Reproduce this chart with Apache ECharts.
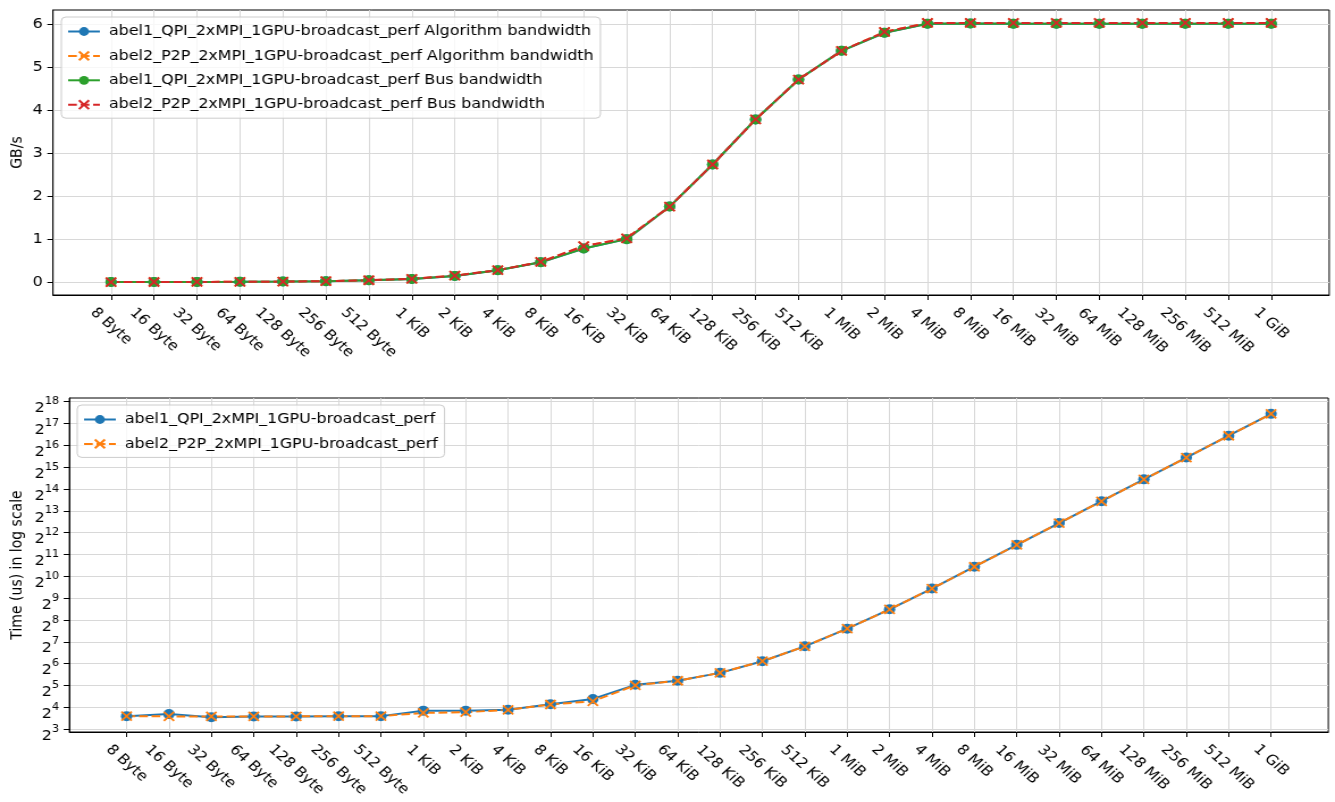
<!DOCTYPE html>
<html>
<head>
<meta charset="utf-8">
<title>NCCL broadcast_perf: abel1 QPI vs abel2 P2P</title>
<script src="https://cdn.jsdelivr.net/npm/echarts@6/dist/echarts.min.js"></script>
<style>
  html, body { margin: 0; padding: 0; background: #ffffff; overflow: hidden; }
  /* the figure is laid out on a 1176px-wide canvas and widened to fill the page */
  #chart { width: 1176px; height: 802px; transform: scaleX(1.1352); transform-origin: 0 0; }
</style>
</head>
<body>
<div id="chart"></div>
<script>
// Message sizes tested by broadcast_perf
const sizes = [
  '8 Byte', '16 Byte', '32 Byte', '64 Byte', '128 Byte', '256 Byte', '512 Byte',
  '1 KiB', '2 KiB', '4 KiB', '8 KiB', '16 KiB', '32 KiB', '64 KiB', '128 KiB', '256 KiB', '512 KiB',
  '1 MiB', '2 MiB', '4 MiB', '8 MiB', '16 MiB', '32 MiB', '64 MiB', '128 MiB', '256 MiB', '512 MiB',
  '1 GiB'
];

// Bandwidth in GB/s (broadcast: algorithm bandwidth equals bus bandwidth)
const qpiAlgBw = [0.0007, 0.0012, 0.0027, 0.0053, 0.0107, 0.021, 0.042, 0.071, 0.142, 0.277, 0.463, 0.78, 1.00,
  1.76, 2.74, 3.79, 4.72, 5.39, 5.81, 6.02, 6.03, 6.02, 6.02, 6.02, 6.02, 6.02, 6.02, 6.02];
const p2pAlgBw = [0.0007, 0.0013, 0.0027, 0.0053, 0.0107, 0.021, 0.042, 0.076, 0.150, 0.277, 0.468, 0.84, 1.02,
  1.76, 2.74, 3.79, 4.72, 5.39, 5.83, 6.04, 6.04, 6.04, 6.04, 6.04, 6.04, 6.04, 6.04, 6.04];
const qpiBusBw = [0.0007, 0.0012, 0.0027, 0.0053, 0.0107, 0.021, 0.042, 0.071, 0.142, 0.277, 0.463, 0.78, 1.00,
  1.76, 2.74, 3.79, 4.72, 5.39, 5.81, 6.02, 6.03, 6.02, 6.02, 6.02, 6.02, 6.02, 6.02, 6.02];
const p2pBusBw = [0.0007, 0.0013, 0.0027, 0.0053, 0.0107, 0.021, 0.042, 0.076, 0.150, 0.277, 0.468, 0.84, 1.02,
  1.76, 2.74, 3.79, 4.72, 5.39, 5.83, 6.04, 6.04, 6.04, 6.04, 6.04, 6.04, 6.04, 6.04, 6.04];

// Time per broadcast in microseconds
const qpiTime = [12.1, 12.9, 11.7, 12.0, 12.0, 12.1, 12.1, 14.4, 14.4, 14.8, 17.7, 20.9, 32.7,
  37.2, 47.8, 69.2, 111.0, 194.5, 359.8, 696.0, 1392, 2783, 5566, 11130, 22270, 44540, 89080, 178200];
const p2pTime = [12.1, 12.0, 12.0, 12.0, 12.0, 12.1, 12.1, 13.4, 13.7, 14.8, 17.5, 19.4, 32.2,
  37.2, 47.8, 69.2, 111.0, 194.5, 359.5, 694.5, 1389, 2778, 5556, 11110, 22230, 44460, 88920, 177800];

// Axis ticks
const bwTicks = [0, 1, 2, 3, 4, 5, 6];
const timeTickExponents = [3, 4, 5, 6, 7, 8, 9, 10, 11, 12, 13, 14, 15, 16, 17, 18];

const FONT = 'DejaVu Sans';
const TEXT = '#000000';
const GRID_LINE = '#d8d8d8';
const C_BLUE = '#1f77b4', C_ORANGE = '#ff7f0e', C_GREEN = '#2ca02c', C_RED = '#d62728';
const DASH = [7.7, 3.3];
const CROSS = 'path://M0,0L10,10M10,0L0,10';

const sizeIndex = sizes.map((_, i) => i);
const timeTicks = timeTickExponents.map(e => Math.pow(2, e));

// Rotated size labels are centred under their tick: shift each label by
// an amount that depends on its own rendered width.
const measureCtx = document.createElement('canvas').getContext('2d');
measureCtx.font = '14px "' + FONT + '"';
const LABEL_MARGIN = 8;
const sizeRich = {};
sizes.forEach((s, i) => {
  const w = measureCtx.measureText(s).width;
  const d = 9.7 + 0.354 * (w + 16.3) - LABEL_MARGIN;
  const p = Math.max(0, Math.round(1.414 * d));
  sizeRich['s' + i] = { fontFamily: FONT, fontSize: 14, color: TEXT, padding: [p, 0, 0, p] };
});

function sizeAxis(gridIndex) {
  return {
    type: 'value', gridIndex, min: -1.35, max: 28.35,
    axisLine: { show: true, onZero: false, lineStyle: { color: '#000', width: 1 } },
    axisTick: { show: true, length: 5, lineStyle: { color: '#000', width: 1 }, customValues: sizeIndex },
    axisLabel: {
      customValues: sizeIndex, rotate: -45, align: 'center', verticalAlign: 'middle',
      margin: LABEL_MARGIN, fontFamily: FONT, fontSize: 14, color: TEXT,
      showMinLabel: true, showMaxLabel: true,
      formatter: v => '{s' + Math.round(v) + '|' + sizes[Math.round(v)] + '}',
      rich: sizeRich
    },
    splitLine: { show: true, lineStyle: { color: GRID_LINE, width: 1 } }
  };
}

function pairs(values) {
  return values.map((v, i) => [i, v]);
}

function series(name, xAxisIndex, yAxisIndex, values, color, marker) {
  const isCross = marker === 'x';
  return {
    name, type: 'line', xAxisIndex, yAxisIndex,
    data: pairs(values),
    symbol: isCross ? CROSS : 'circle',
    symbolSize: isCross ? 9 : 10,
    showAllSymbol: true,
    lineStyle: { color, width: 2, type: isCross ? DASH : 'solid' },
    itemStyle: isCross ? { color, borderColor: color, borderWidth: 1.8 } : { color, borderWidth: 0 },
    emphasis: { disabled: true },
    silent: true,
    animation: false
  };
}

function legend(left, top, names) {
  return {
    left, top, orient: 'vertical', data: names,
    itemWidth: 28, itemHeight: 11, itemGap: 7.4,
    backgroundColor: 'rgba(255,255,255,0.8)',
    borderColor: '#cccccc', borderWidth: 1, borderRadius: 4,
    padding: [6, 6, 5, 5],
    selectedMode: false,
    textStyle: { fontFamily: FONT, fontSize: 14, color: TEXT, lineHeight: 17, padding: [0, 0, 0, 3] }
  };
}

const topNames = [
  'abel1_QPI_2xMPI_1GPU-broadcast_perf Algorithm bandwidth',
  'abel2_P2P_2xMPI_1GPU-broadcast_perf Algorithm bandwidth',
  'abel1_QPI_2xMPI_1GPU-broadcast_perf Bus bandwidth',
  'abel2_P2P_2xMPI_1GPU-broadcast_perf Bus bandwidth'
];
const bottomNames = [
  'abel1_QPI_2xMPI_1GPU-broadcast_perf',
  'abel2_P2P_2xMPI_1GPU-broadcast_perf'
];

const option = {
  animation: false,
  backgroundColor: '#ffffff',
  textStyle: { fontFamily: FONT },
  grid: [
    { left: 46.7, top: 10, width: 1124.2, height: 285, show: true, borderColor: '#000', borderWidth: 1, outerBoundsMode: 'none', containLabel: false },
    { left: 61.1, top: 398, width: 1109, height: 334, show: true, borderColor: '#000', borderWidth: 1, outerBoundsMode: 'none', containLabel: false }
  ],
  legend: [legend(54, 17, topNames), legend(68, 405, bottomNames)],
  xAxis: [sizeAxis(0), sizeAxis(1)],
  yAxis: [
    {
      type: 'value', gridIndex: 0, min: -0.302, max: 6.342,
      name: 'GB/s', nameLocation: 'middle', nameGap: 24, nameMoveOverlap: false,
      nameTextStyle: { fontFamily: FONT, fontSize: 14, color: TEXT },
      axisLine: { show: true, onZero: false, lineStyle: { color: '#000', width: 1 } },
      axisTick: { show: true, length: 5, lineStyle: { color: '#000' }, customValues: bwTicks },
      axisLabel: { customValues: bwTicks, margin: 9, fontFamily: FONT, fontSize: 14, color: TEXT,
        showMinLabel: true, showMaxLabel: true },
      splitLine: { show: true, lineStyle: { color: GRID_LINE, width: 1 } }
    },
    {
      type: 'log', logBase: 2, gridIndex: 1, min: Math.pow(2, 2.87), max: Math.pow(2, 18.17),
      name: 'Time (us) in log scale', nameLocation: 'middle', nameGap: 39, nameMoveOverlap: false,
      nameTextStyle: { fontFamily: FONT, fontSize: 14, color: TEXT },
      axisLine: { show: true, onZero: false, lineStyle: { color: '#000', width: 1 } },
      axisTick: { show: true, length: 5, lineStyle: { color: '#000' }, customValues: timeTicks },
      axisLabel: {
        customValues: timeTicks, margin: 9, padding: [9, 0, 0, 0],
        showMinLabel: true, showMaxLabel: true,
        formatter: v => '{b|2}{e|' + Math.round(Math.log2(v)) + '}',
        rich: {
          b: { fontFamily: FONT, fontSize: 14, color: TEXT, lineHeight: 19, verticalAlign: 'bottom' },
          e: { fontFamily: FONT, fontSize: 10, color: TEXT, verticalAlign: 'top' }
        }
      },
      splitLine: { show: true, lineStyle: { color: GRID_LINE, width: 1 } }
    }
  ],
  series: [
    series(topNames[0], 0, 0, qpiAlgBw, C_BLUE, 'o'),
    series(topNames[1], 0, 0, p2pAlgBw, C_ORANGE, 'x'),
    series(topNames[2], 0, 0, qpiBusBw, C_GREEN, 'o'),
    series(topNames[3], 0, 0, p2pBusBw, C_RED, 'x'),
    series(bottomNames[0], 1, 1, qpiTime, C_BLUE, 'o'),
    series(bottomNames[1], 1, 1, p2pTime, C_ORANGE, 'x')
  ]
};

const chart = echarts.init(document.getElementById('chart'), null, { renderer: 'canvas' });
chart.setOption(option);
</script>
</body>
</html>
